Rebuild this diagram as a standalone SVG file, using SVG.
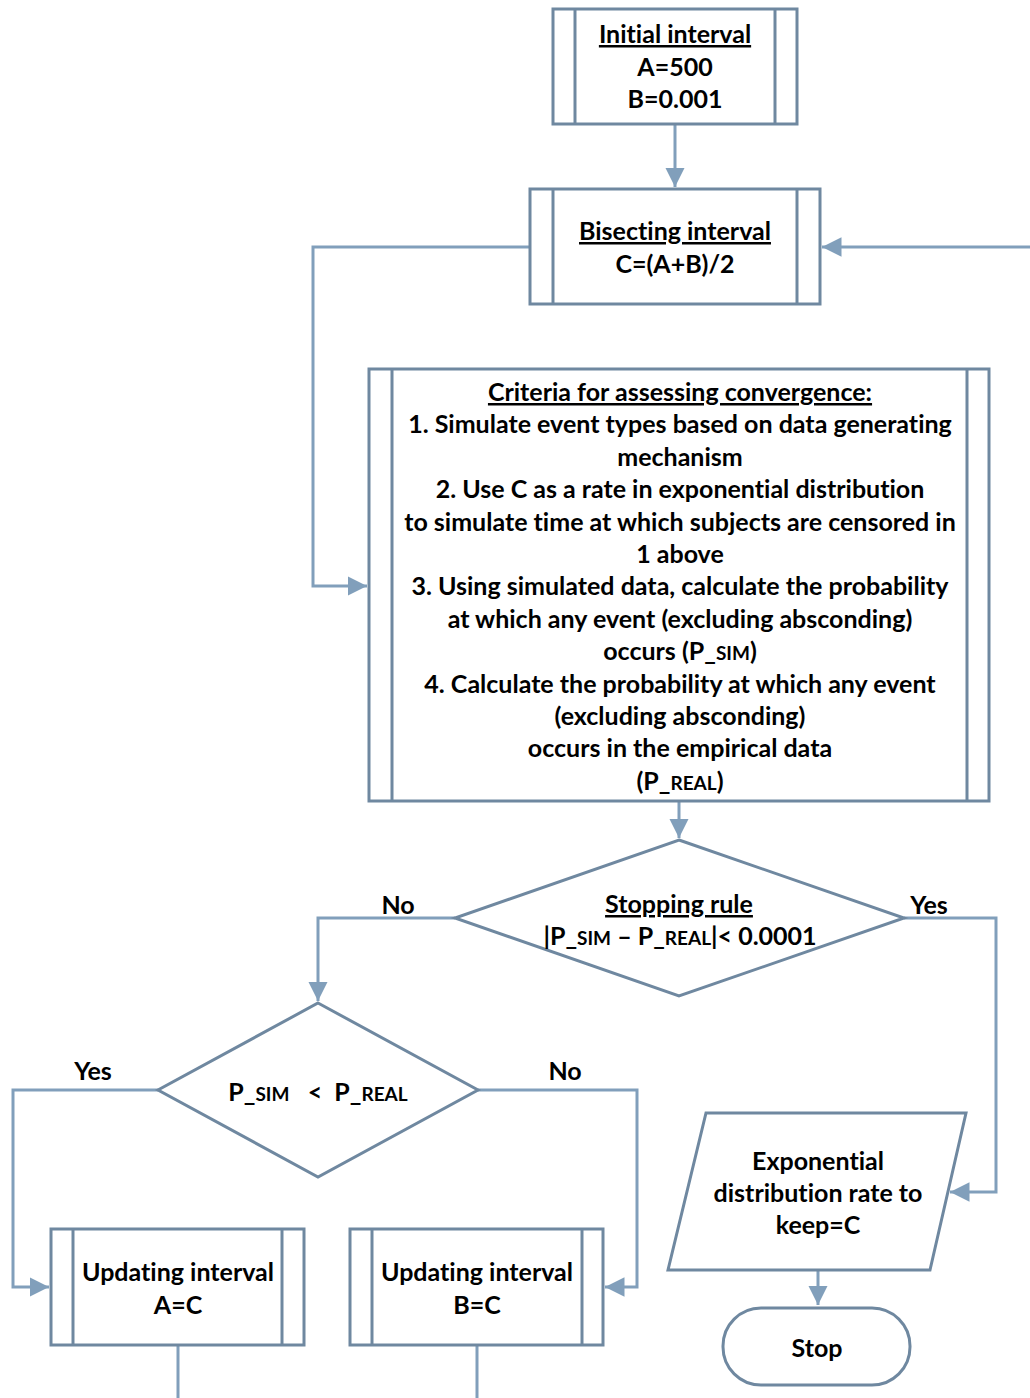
<svg xmlns="http://www.w3.org/2000/svg" width="1030" height="1398" viewBox="0 0 1030 1398">
<style>
.s{fill:#fff;stroke:#6f88a0;stroke-width:3}
.in{stroke:#6f88a0;stroke-width:3}
.c{fill:none;stroke:#819fbb;stroke-width:3}
text{font-family:Lato,"Liberation Sans",sans-serif;font-weight:bold;font-size:25px;fill:#000;text-anchor:middle;font-variant-ligatures:none}
.u{text-decoration:underline}
.sm{font-size:19px}
</style>
<defs>
<marker id="ar" viewBox="0 0 10 10" refX="10" refY="5" markerWidth="6.5" markerHeight="6.5" markerUnits="strokeWidth" orient="auto">
<path d="M0,0 L10,5 L0,10 z" fill="#819fbb"/>
</marker>
</defs>
<rect width="1030" height="1398" fill="#fff"/>
<g id="connectors">
<path class="c" d="M675,124 V187" marker-end="url(#ar)"/>
<path class="c" d="M1030,247 H822" marker-end="url(#ar)"/>
<path class="c" d="M530,247 H313 V586 H367" marker-end="url(#ar)"/>
<path class="c" d="M679,801 V838" marker-end="url(#ar)"/>
<path class="c" d="M455,918 H318 V1001" marker-end="url(#ar)"/>
<path class="c" d="M904,918 H996 V1192 H950" marker-end="url(#ar)"/>
<path class="c" d="M158,1090 H13 V1287 H49" marker-end="url(#ar)"/>
<path class="c" d="M478,1090 H637 V1287 H605" marker-end="url(#ar)"/>
<path class="c" d="M818,1270 V1305" marker-end="url(#ar)"/>
<path class="c" d="M178,1345 V1398"/>
<path class="c" d="M477,1345 V1398"/>
<text x="398" y="914">No</text>
<text x="929" y="914">Yes</text>
<text x="93" y="1080">Yes</text>
<text x="565" y="1080">No</text>
</g>
<g id="initial">
<rect class="s" x="553" y="9" width="244" height="115"/>
<line class="in" x1="575" y1="9" x2="575" y2="124"/>
<line class="in" x1="775" y1="9" x2="775" y2="124"/>
<text x="675" y="43" class="u">Initial interval</text>
<text x="675" y="76">A=500</text>
<text x="675" y="108">B=0.001</text>
</g>
<g id="bisect">
<rect class="s" x="530" y="189" width="290" height="115"/>
<line class="in" x1="553" y1="189" x2="553" y2="304"/>
<line class="in" x1="797" y1="189" x2="797" y2="304"/>
<text x="675" y="240" class="u">Bisecting interval</text>
<text x="675" y="273">C=(A+B)/2</text>
</g>
<g id="criteria">
<rect class="s" x="369" y="369" width="620" height="432"/>
<line class="in" x1="392" y1="369" x2="392" y2="801"/>
<line class="in" x1="967" y1="369" x2="967" y2="801"/>
<text x="680" y="401" class="u">Criteria for assessing convergence:</text>
<text x="680" y="433">1. Simulate event types based on data generating</text>
<text x="680" y="466">mechanism</text>
<text x="680" y="498">2. Use C as a rate in exponential distribution</text>
<text x="680" y="531">to simulate time at which subjects are censored in</text>
<text x="680" y="563">1 above</text>
<text x="680" y="595">3. Using simulated data, calculate the probability</text>
<text x="680" y="628">at which any event (excluding absconding)</text>
<text x="680" y="660">occurs (P_<tspan class="sm">SIM</tspan>)</text>
<text x="680" y="693">4. Calculate the probability at which any event</text>
<text x="680" y="725">(excluding absconding)</text>
<text x="680" y="757">occurs in the empirical data</text>
<text x="680" y="790">(P_<tspan class="sm">REAL</tspan>)</text>
</g>
<g id="stopping">
<polygon class="s" points="679,840 904,918 679,996 455,918"/>
<text x="679" y="913" class="u">Stopping rule</text>
<text x="680" y="945">|P_<tspan class="sm">SIM</tspan> – P_<tspan class="sm">REAL</tspan>|&lt; 0.0001</text>
</g>
<g id="compare">
<polygon class="s" points="318,1003 478,1090 318,1177 158,1090"/>
<text x="318" y="1101" xml:space="preserve">P_<tspan class="sm">SIM</tspan>   &lt;  P_<tspan class="sm">REAL</tspan></text>
</g>
<g id="updateA">
<rect class="s" x="51" y="1229" width="253" height="116"/>
<line class="in" x1="73" y1="1229" x2="73" y2="1345"/>
<line class="in" x1="282" y1="1229" x2="282" y2="1345"/>
<text x="178" y="1281">Updating interval</text>
<text x="178" y="1314">A=C</text>
</g>
<g id="updateB">
<rect class="s" x="350" y="1229" width="253" height="116"/>
<line class="in" x1="372" y1="1229" x2="372" y2="1345"/>
<line class="in" x1="582" y1="1229" x2="582" y2="1345"/>
<text x="477" y="1281">Updating interval</text>
<text x="477" y="1314">B=C</text>
</g>
<g id="keep">
<polygon class="s" points="706,1113 966,1113 930,1270 668,1270"/>
<text x="818" y="1170">Exponential</text>
<text x="818" y="1202">distribution rate to</text>
<text x="818" y="1234">keep=C</text>
</g>
<g id="stop">
<rect class="s" x="723" y="1308" width="187" height="77" rx="38" ry="38"/>
<text x="817" y="1357">Stop</text>
</g>
</svg>
